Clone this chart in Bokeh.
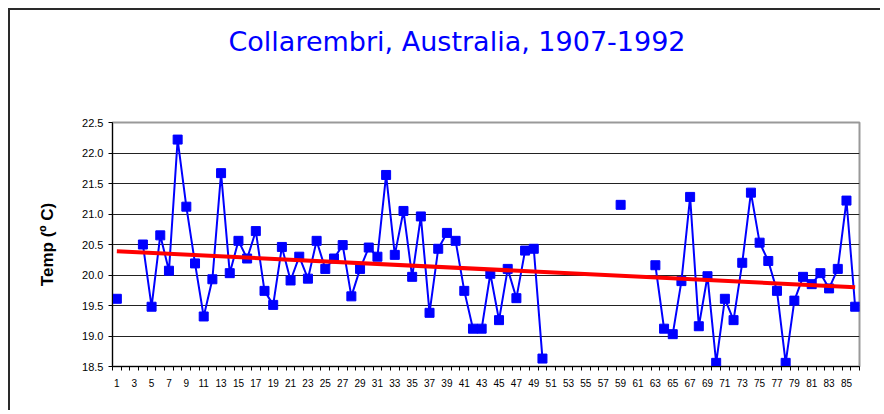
import numpy as np
from bokeh.plotting import figure
from bokeh.models import Range1d, FixedTicker, Title
from bokeh.embed import file_html
from bokeh.resources import INLINE

nan = float("nan")
years = list(range(1, 87))
temps = [19.61, nan, nan, 20.50, 19.48, 20.65, 20.07, 22.22, 21.12, 20.19,
         19.32, 19.93, 21.67, 20.03, 20.56, 20.27, 20.72, 19.74, 19.51, 20.46,
         19.91, 20.30, 19.94, 20.56, 20.10, 20.27, 20.49, 19.65, 20.10, 20.45,
         20.30, 21.64, 20.33, 21.05, 19.97, 20.96, 19.38, 20.43, 20.69, 20.56,
         19.74, 19.12, 19.12, 20.02, 19.26, 20.10, 19.62, 20.40, 20.43, 18.63,
         nan, nan, nan, nan, nan, nan, nan, nan, 21.15, nan,
         nan, nan, 20.16, 19.12, 19.03, 19.90, 21.28, 19.16, 19.98, 18.56,
         19.61, 19.26, 20.20, 21.35, 20.53, 20.23, 19.74, 18.56, 19.58, 19.97,
         19.85, 20.03, 19.78, 20.10, 21.22, 19.48]
trend_x = [1, 86]
trend_y = [20.39, 19.80]
y_ticks = [18.5, 19.0, 19.5, 20.0, 20.5, 21.0, 21.5, 22.0, 22.5]
x_label_ticks = list(range(1, 87, 2))
title_text = "Collarembri, Australia, 1907-1992"
y_title = "Temp (\u00ba C)"

W, H = 872, 402
p = figure(width=W, height=H, output_backend="svg", toolbar_location=None,
           x_range=Range1d(0.5, 86.5), y_range=Range1d(18.5, 22.5),
           min_border_left=102, min_border_right=23, min_border_top=112,
           min_border_bottom=46, title=title_text)
p.styles = {"margin-left": "8px", "margin-top": "8px",
            "border-top": "2px solid #2a2a2a",
            "border-left": "2px solid #2a2a2a"}
p.background_fill_color = "white"
p.border_fill_color = "white"
p.outline_line_color = "#999999"
p.outline_line_width = 2

p.title.align = "left"
p.title.offset = 116
p.title.standoff = 21
p.title.text_color = "#0000FF"
p.title.text_font = "DejaVu Sans"
p.title.text_font_size = "27px"
p.title.text_font_style = "normal"

# empty spacer between title and plot area
p.add_layout(Title(text=" ", text_font_size="47px", standoff=0), "above")

# axes
p.xaxis.ticker = FixedTicker(ticks=x_label_ticks,
                             minor_ticks=[i + 0.5 for i in range(0, 87)])
p.xaxis.major_tick_line_color = None
p.xaxis.minor_tick_out = 4
p.xaxis.minor_tick_in = 0
p.xaxis.minor_tick_line_color = "black"
p.xaxis.axis_line_color = "black"
p.xaxis.major_label_text_font = "Liberation Sans"
p.xaxis.major_label_text_font_size = "10px"
p.xaxis.major_label_text_color = "black"
p.xaxis.major_label_standoff = 6

p.yaxis.ticker = FixedTicker(ticks=y_ticks)
p.yaxis.major_label_overrides = {t: f"{t:.1f}" for t in y_ticks}
p.yaxis.major_tick_out = 4
p.yaxis.major_tick_in = 0
p.yaxis.major_tick_line_color = "black"
p.yaxis.minor_tick_line_color = None
p.yaxis.axis_line_color = "black"
p.yaxis.major_label_text_font = "Liberation Sans"
p.yaxis.major_label_text_font_size = "11px"
p.yaxis.major_label_text_color = "black"
p.yaxis.axis_label = y_title
p.yaxis.axis_label_text_font = "Liberation Sans"
p.yaxis.axis_label_text_font_style = "bold"
p.yaxis.axis_label_text_font_size = "17px"
p.yaxis.axis_label_text_color = "black"
p.yaxis.axis_label_standoff = 22

p.xgrid.grid_line_color = None
p.ygrid.ticker = FixedTicker(ticks=y_ticks)
p.ygrid.grid_line_color = "#222222"
p.ygrid.grid_line_width = 1

p.line(years, temps, line_color="#0000FF", line_width=2)
p.scatter(years, temps, marker="square", size=9, fill_color="#0000FF",
          line_color="#0000FF")
p.line(trend_x, trend_y, line_color="#FF0000", line_width=4)

open("out.html", "w").write(file_html(p, INLINE))
